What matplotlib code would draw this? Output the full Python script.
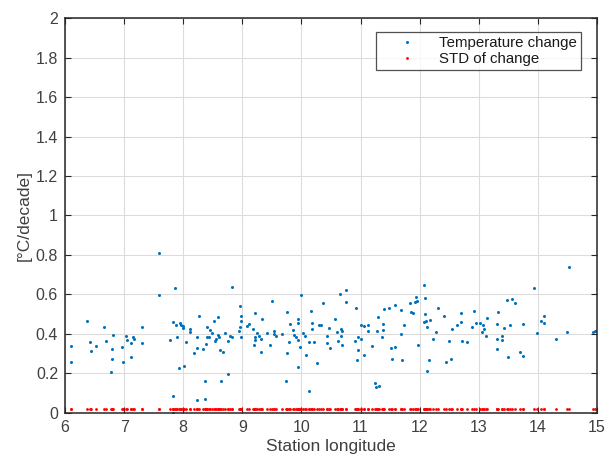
import matplotlib
matplotlib.use("Agg")
import matplotlib.pyplot as plt

# ── Data ─────────────────────────────────────────────────────────────────────

lon = [
    6.10, 6.10, 6.38, 6.42, 6.44, 6.53, 6.66, 6.69, 6.80, 6.80, 6.82, 6.77,
    6.97, 6.98, 7.04, 7.05, 7.11, 7.11, 7.15, 7.16, 7.31, 7.31, 7.59, 7.59,
    7.77, 7.83, 7.83, 7.86, 7.88, 7.89, 7.92, 7.95, 7.97, 7.99, 7.99, 8.01,
    8.04, 8.11, 8.12, 8.19, 7.83,
    8.24, 8.24, 8.24, 8.27, 8.33, 8.37, 8.37, 8.39, 8.41, 8.41, 8.44, 8.46,
    8.49, 8.52, 8.54, 8.56, 8.58, 8.59, 8.61, 8.63, 8.64, 8.67, 8.70, 8.75,
    8.76, 8.79, 8.82, 8.82, 8.94, 8.96, 8.96, 8.98, 8.98, 8.98, 9.08, 9.11,
    9.18, 9.19, 9.21, 9.22, 9.22, 9.25, 9.28, 9.31, 9.32, 9.34, 9.41, 9.47,
    9.50, 9.53, 9.53, 9.57, 9.67, 9.74, 9.76, 9.76, 9.79, 9.80, 9.86, 9.88,
    9.90, 9.94, 9.95, 9.95, 9.95, 9.98, 10.00, 10.02, 10.06, 10.07, 10.13,
    10.13, 10.16, 10.17, 10.18, 10.21, 10.27, 10.30, 10.33, 10.37, 10.44,
    10.44, 10.47,
    10.48, 10.56, 10.60, 10.61, 10.65, 10.67, 10.67, 10.69, 10.69, 10.76,
    10.76, 10.92, 10.91, 10.94, 10.95, 10.96, 11.00, 11.00, 11.05, 11.05,
    11.12, 11.13, 11.19, 11.25, 11.26, 11.31, 11.28, 11.30, 11.36, 11.38,
    11.38, 11.39, 11.48, 11.51, 11.54, 11.58, 11.58, 11.69, 11.69, 11.70,
    11.73, 11.83, 11.85, 11.88, 11.92, 11.93, 11.95, 11.98, 12.08, 12.09,
    12.09, 12.08, 12.11, 12.12, 12.13, 12.15, 12.18, 12.23, 12.27, 12.31,
    12.42, 12.44, 12.49, 12.53, 12.54, 12.63, 12.70, 12.70, 12.71,
    12.80, 12.88, 12.92, 12.96, 13.02, 13.05, 13.07, 13.09, 13.13, 13.14,
    13.30, 13.31, 13.31, 13.32, 13.40, 13.40, 13.43, 13.47, 13.50, 13.53,
    13.57, 13.62, 13.70, 13.74, 13.75, 13.93, 13.98, 14.06, 14.11, 14.11,
    14.31, 14.49, 14.53, 14.93, 14.96,
]

temp_change = [
    0.339, 0.260, 0.468, 0.361, 0.316, 0.341, 0.434, 0.363, 0.326, 0.272, 0.395, 0.209,
    0.336, 0.257, 0.390, 0.368, 0.354, 0.285, 0.387, 0.373, 0.434, 0.353, 0.812, 0.597,
    0.368, 0.086, 0.462, 0.635, 0.444, 0.383, 0.226, 0.456, 0.446, 0.440, 0.432, 0.240,
    0.358, 0.424, 0.408, 0.302, 0.000,
    0.386, 0.331, 0.068, 0.489, 0.322, 0.160, 0.069, 0.348, 0.434, 0.386, 0.386, 0.420,
    0.403, 0.468, 0.366, 0.375, 0.395, 0.488, 0.385, 0.319, 0.160, 0.309, 0.403, 0.199,
    0.365, 0.390, 0.640, 0.383, 0.417, 0.434, 0.543, 0.468, 0.491, 0.385, 0.442, 0.451,
    0.424, 0.343, 0.386, 0.505, 0.371, 0.403, 0.392, 0.375, 0.309, 0.476, 0.407, 0.346,
    0.565, 0.415, 0.402, 0.388, 0.400, 0.160, 0.510, 0.305, 0.361, 0.452, 0.419, 0.393,
    0.386, 0.454, 0.368, 0.478, 0.235, 0.336, 0.597, 0.403, 0.392, 0.294, 0.360,
    0.113, 0.518, 0.456, 0.424, 0.361, 0.253, 0.447, 0.447, 0.555, 0.390,
    0.353, 0.430,
    0.331, 0.476, 0.408, 0.365, 0.604, 0.388, 0.424, 0.417, 0.344, 0.621,
    0.564, 0.530, 0.363, 0.268, 0.385, 0.321, 0.446, 0.375, 0.442, 0.295,
    0.444, 0.414, 0.338, 0.152, 0.132, 0.135, 0.414, 0.486, 0.386, 0.449,
    0.420, 0.525, 0.530, 0.327, 0.275, 0.336, 0.547, 0.398, 0.522, 0.268,
    0.447, 0.555, 0.513, 0.506, 0.564, 0.589, 0.567, 0.346, 0.648, 0.584,
    0.501, 0.459, 0.468, 0.434, 0.213, 0.266, 0.471, 0.373, 0.410, 0.530,
    0.489, 0.257, 0.365, 0.272, 0.424, 0.447, 0.506, 0.462, 0.363,
    0.358, 0.437, 0.515, 0.457, 0.457, 0.408, 0.447, 0.424, 0.388, 0.483,
    0.326, 0.375, 0.452, 0.510, 0.388, 0.368, 0.430, 0.574, 0.282, 0.446,
    0.579, 0.559, 0.309, 0.451, 0.290, 0.633, 0.403, 0.468, 0.491, 0.454,
    0.376, 0.410, 0.741, 0.410, 0.415,
]

# STD of the change sits at ~0.02 for every station
std_change = [0.022] * len(lon)

x_ticks = [6, 7, 8, 9, 10, 11, 12, 13, 14, 15]
y_ticks = [0, 0.2, 0.4, 0.6, 0.8, 1, 1.2, 1.4, 1.6, 1.8, 2]
y_tick_labels = ["0", "0.2", "0.4", "0.6", "0.8", "1", "1.2", "1.4", "1.6", "1.8", "2"]

# ── Style (MATLAB-like) ──────────────────────────────────────────────────────

plt.rcParams["font.family"] = ["Liberation Sans", "DejaVu Sans"]
AX_COL = "#262626"
TXT_COL = "#404040"
BLUE = "#0072BD"
RED = "#FF0000"

fig = plt.figure(figsize=(6.14, 4.57), dpi=100)
ax = fig.add_axes([0.1059, 0.0963, 0.8664, 0.8643])

ax.plot(lon, temp_change, linestyle="none", marker="o", markersize=2.2,
        markeredgewidth=0, color=BLUE, label="Temperature change")
ax.plot(lon, std_change, linestyle="none", marker="o", markersize=2.0,
        markeredgewidth=0, color=RED, label="STD of change")

ax.set_xlim(6, 15)
ax.set_ylim(0, 2)
ax.set_xticks(x_ticks)
ax.set_yticks(y_ticks)
ax.set_yticklabels(y_tick_labels)

ax.grid(True, color="#dcdcdc", linewidth=0.8)
ax.set_axisbelow(True)
for s in ax.spines.values():
    s.set_color(AX_COL)
    s.set_linewidth(1.1)
ax.tick_params(direction="in", top=True, right=True, length=4, width=0.8,
               color=AX_COL, labelcolor=TXT_COL, labelsize=11.5, pad=5)

ax.set_xlabel("Station longitude", fontsize=12.5, color=TXT_COL, labelpad=3)
ax.set_ylabel("[°C/decade]", fontsize=12.5, color=TXT_COL, labelpad=3)

leg = ax.legend(loc="upper right", bbox_to_anchor=(0.970, 0.965), borderaxespad=0,
                fontsize=10.8, frameon=True, fancybox=False, edgecolor=AX_COL,
                handlelength=3.6, handletextpad=0.3, borderpad=0.3,
                labelspacing=0.1)
leg.get_frame().set_linewidth(0.9)
for t in leg.get_texts():
    t.set_color("#1a1a1a")

fig.savefig("out.png", dpi=100)
